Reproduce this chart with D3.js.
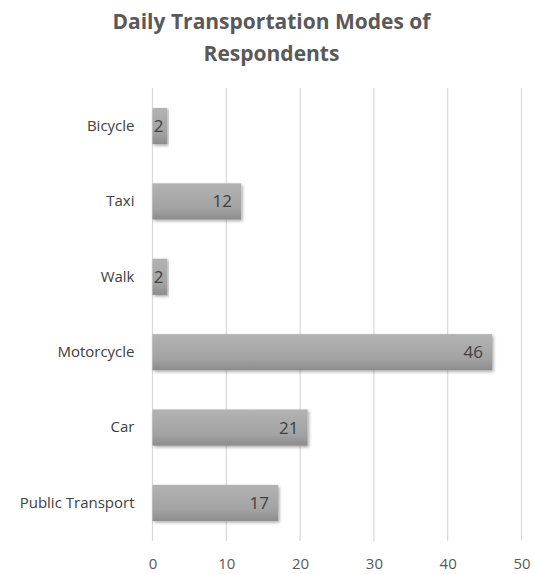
<!DOCTYPE html>
<html>
<head>
<meta charset="utf-8">
<script src="https://cdn.jsdelivr.net/npm/d3@7"></script>
<style>
  html, body { margin: 0; padding: 0; background: #fff; }
  svg { display: block; }
</style>
</head>
<body>
<svg id="chart" width="535" height="574"></svg>
<script>
// Daily transportation modes, top to bottom
const categories = ["Bicycle", "Taxi", "Walk", "Motorcycle", "Car", "Public Transport"];
const counts = [2, 12, 2, 46, 21, 17];
const tickValues = [0, 10, 20, 30, 40, 50];
const titleLines = ["Daily Transportation Modes of", "Respondents"];

const svg = d3.select("#chart");
const W = 535, H = 574;
const margin = { top: 88, left: 152.5 };
const plotW = 521.5 - margin.left;
const plotH = 541 - margin.top;

const font = "'Open Sans', 'Noto Sans', sans-serif";

// Title
svg.append("g").selectAll("text")
  .data(titleLines)
  .join("text")
  .attr("x", W / 2 + 4)
  .attr("y", (d, i) => 29 + i * 32)
  .attr("text-anchor", "middle")
  .attr("font-family", font)
  .attr("font-weight", 700)
  .attr("font-size", 21)
  .attr("fill", "#595959")
  .text(d => d);

const defs = svg.append("defs");
const grad = defs.append("linearGradient")
  .attr("id", "barFill").attr("x1", 0).attr("y1", 0).attr("x2", 0).attr("y2", 1);
grad.append("stop").attr("offset", "0%").attr("stop-color", "#b3b3b3");
grad.append("stop").attr("offset", "70%").attr("stop-color", "#a2a2a2");
grad.append("stop").attr("offset", "100%").attr("stop-color", "#8c8c8c");

const shadow = defs.append("filter").attr("id", "barShadow")
  .attr("x", "-5%").attr("y", "-20%").attr("width", "115%").attr("height", "150%");
shadow.append("feDropShadow")
  .attr("dx", 1.5).attr("dy", 1.5).attr("stdDeviation", 1.5)
  .attr("flood-color", "#000").attr("flood-opacity", 0.35);

const x = d3.scaleLinear().domain([0, 50]).range([0, plotW]);
const y = d3.scaleBand().domain(categories).range([0, plotH]).paddingInner(0.52).paddingOuter(0.265);

const g = svg.append("g").attr("transform", `translate(${margin.left},${margin.top})`);

// Vertical gridlines
g.append("g").selectAll("line")
  .data(tickValues)
  .join("line")
  .attr("x1", d => x(d))
  .attr("x2", d => x(d))
  .attr("y1", 0)
  .attr("y2", plotH)
  .attr("stroke", "#d9d9d9")
  .attr("stroke-width", 1.2);

// X axis tick labels
const xAxis = d3.axisBottom(x).tickValues(tickValues).tickSize(0).tickPadding(0);
const xg = g.append("g").attr("transform", `translate(0,${plotH + 17})`).call(xAxis);
xg.select(".domain").remove();
xg.selectAll("text")
  .attr("font-family", font)
  .attr("font-size", 15)
  .attr("fill", "#595959");

// Y axis category labels
const yAxis = d3.axisLeft(y).tickSize(0).tickPadding(18);
const yg = g.append("g").call(yAxis);
yg.select(".domain").remove();
yg.selectAll("text")
  .attr("font-family", font)
  .attr("font-size", 15)
  .attr("fill", "#404040");

// Bars
g.append("g").selectAll("rect")
  .data(counts)
  .join("rect")
  .attr("x", 0)
  .attr("y", (d, i) => y(categories[i]))
  .attr("width", d => x(d))
  .attr("height", y.bandwidth())
  .attr("fill", "url(#barFill)")
  .attr("filter", "url(#barShadow)");

// Value labels, inside the bar end (kept inside short bars too)
g.append("g").selectAll("text")
  .data(counts)
  .join("text")
  .attr("x", d => Math.max(x(d) - 9, 11))
  .attr("y", (d, i) => y(categories[i]) + y.bandwidth() / 2)
  .attr("dy", "0.35em")
  .attr("text-anchor", "end")
  .attr("font-family", font)
  .attr("font-size", 17)
  .attr("fill", "#404040")
  .text(d => d);
</script>
</body>
</html>
